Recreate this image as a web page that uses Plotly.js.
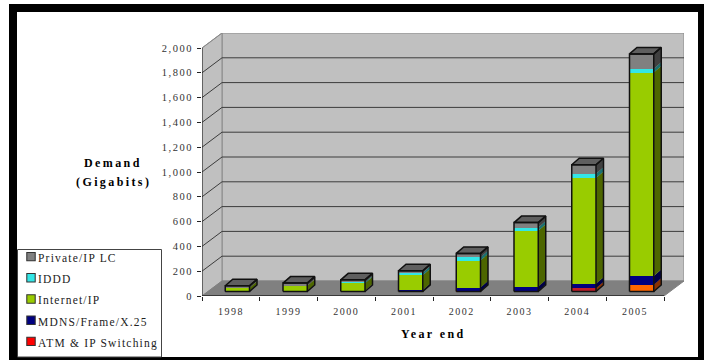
<!DOCTYPE html>
<html>
<head>
<meta charset="utf-8">
<script src="https://cdn.plot.ly/plotly-3.0.1.min.js"></script>
<style>
  html, body { margin: 0; padding: 0; background: #fff; overflow: hidden; }
  #frame { position: absolute; left: 9px; top: 4px; width: 681px; height: 345px;
           border-style: solid; border-color: #000; border-width: 8px 6px 3px 8px; background: #fff; box-sizing: content-box; }
  #chart { position: absolute; left: 0; top: 0; width: 704px; height: 360px; }
  .xtick text, .ytick text { letter-spacing: 1.5px; }
  .annotation-text { letter-spacing: 2.4px; }
  .legendtext { font-size: 11.5px !important; letter-spacing: 1.2px; }
  .legend .legendpoints path { stroke: #333 !important; stroke-width: 1.5px !important; }
</style>
</head>
<body>
<div id="frame"></div>
<div id="chart"></div>
<script>
// Yearly demand by service, in gigabits
const years   = [1998, 1999, 2000, 2001, 2002, 2003, 2004, 2005];
const atm     = [0, 0, 0, 2, 2, 4, 27, 54];
const mdns    = [4, 5, 8, 10, 30, 36, 35, 72];
const internet= [25, 40, 58, 120, 218, 449, 853, 1640];
const iddd    = [2, 3, 8, 20, 27, 27, 35, 30];
const privateIp = [15, 20, 20, 15, 30, 40, 72, 120];
const yTicks  = [0, 200, 400, 600, 800, 1000, 1200, 1400, 1600, 1800, 2000];
const xEdges  = [1997.5, 1998.5, 1999.5, 2000.5, 2001.5, 2002.5, 2003.5, 2004.5, 2005.5];

const seriesDefs = [
  { name: 'ATM & IP Switching', values: atm,       front: ['#ff0000','#ff0000','#ff0000','#ff0000','#ff0000','#800000','#c01c28','#ff6600'], side: '#8c3000' },
  { name: 'MDNS/Frame/X.25',    values: mdns,      front: '#000080', side: '#000048' },
  { name: 'Internet/IP',        values: internet,  front: '#99cc00', side: '#4d6600' },
  { name: 'IDDD',               values: iddd,      front: '#33e6e6', side: '#1a7070' },
  { name: 'Private/IP LC',      values: privateIp, front: '#808080', side: '#404040' }
];

// Oblique projection: the walls recede by wallX/wallY, bars sit part way into the floor
const plotLeft = 202, plotRight = 684, plotTop = 33, plotBottom = 296;
const unitX = 57.75, unitY = 0.124;
const wallX = 20 / unitX, wallY = 15 / unitY;
const barShiftX = 6.5 / unitX, barShiftY = 4.5 / unitY;
const depthX = 7.5 / unitX, depthY = 6.5 / unitY;
const barWidth = 0.42;
const xMin = xEdges[0], xMax = xEdges[8];
const xRange = [xMin, xMin + (plotRight - plotLeft) / unitX];
const yRange = [0, (plotBottom - plotTop) / unitY];
const yTop = yTicks[yTicks.length - 1];
const paperX = px => (px - plotLeft) / (plotRight - plotLeft);
const paperY = px => (plotBottom - px) / (plotBottom - plotTop);

const traces = [];

function poly(xs, ys, fill, line, width) {
  return { type: 'scatter', mode: 'lines', x: xs, y: ys, fill: 'toself', fillcolor: fill,
           line: { color: line, width: width }, showlegend: false, hoverinfo: 'skip', cliponaxis: false };
}
function path(xs, ys, color, width, axes) {
  const t = { type: 'scatter', mode: 'lines', x: xs, y: ys, line: { color: color, width: width },
              showlegend: false, hoverinfo: 'skip', cliponaxis: false };
  if (axes) { t.xaxis = 'x2'; t.yaxis = 'y2'; }
  return t;
}

// Walls and floor
traces.push(poly([xMin + wallX, xMax + wallX, xMax + wallX, xMin + wallX, xMin + wallX],
                 [wallY, wallY, yTop + wallY, yTop + wallY, wallY], '#c0c0c0', '#8a8a8a', 1));
traces.push(poly([xMin, xMin + wallX, xMin + wallX, xMin, xMin],
                 [0, wallY, yTop + wallY, yTop, 0], '#c0c0c0', '#8a8a8a', 1));
traces.push(poly([xMin, xMax, xMax + wallX, xMin + wallX, xMin],
                 [0, 0, wallY, wallY, 0], '#808080', '#808080', 1));

// Gridlines run across the side wall and along the back wall
const gx = [], gy = [];
yTicks.slice(1, -1).forEach(v => {
  gx.push(xMin, xMin + wallX, xMax + wallX, null);
  gy.push(v, v + wallY, v + wallY, null);
});
traces.push(path(gx, gy, '#3c3c3c', 1));
traces.push(path([xMin, xMin + wallX], [yTop, yTop + wallY], '#8a8a8a', 1));
traces.push(path([xMin, xMin], [0, yTop], '#222', 1));
traces.push(path([xMin, xMax], [0, 0], '#222', 1.5));

// Front faces of the stacked columns
seriesDefs.forEach(s => {
  traces.push({ type: 'bar', name: s.name, x: years, y: s.values, width: barWidth,
                xaxis: 'x2', yaxis: 'y2', hoverinfo: 'skip',
                marker: { color: s.front, line: { color: '#222', width: 0 } } });
});

// Side faces, one band per series
const half = barWidth / 2;
const cumulative = years.map(() => 0);
seriesDefs.forEach(s => {
  const xs = [], ys = [];
  years.forEach((yr, i) => {
    const lo = cumulative[i], hi = lo + s.values[i];
    cumulative[i] = hi;
    if (s.values[i] <= 0) return;
    const r = yr + half;
    xs.push(r, r + depthX, r + depthX, r, r, null);
    ys.push(lo, lo + depthY, hi + depthY, hi, lo, null);
  });
  const t = poly(xs, ys, s.side, s.side, 0);
  t.xaxis = 'x2'; t.yaxis = 'y2';
  traces.push(t);
});

// Column tops and outlines, drawn from the stack totals
const topX = [], topY = [], edgeX = [], edgeY = [];
years.forEach((yr, i) => {
  const l = yr - half, r = yr + half, h = cumulative[i];
  topX.push(l, r, r + depthX, l + depthX, l, null);
  topY.push(h, h, h + depthY, h + depthY, h, null);
  edgeX.push(l, r, r, l, l, null, r, r + depthX, r + depthX, r, null);
  edgeY.push(0, 0, h, h, 0, null, 0, depthY, h + depthY, h, null);
});
const topFace = poly(topX, topY, '#5f5f5f', '#111', 1.5);
topFace.xaxis = 'x2'; topFace.yaxis = 'y2';
traces.push(topFace);
traces.push(path(edgeX, edgeY, '#111', 1.5, true));

const titleFont = { size: 12, color: '#000', weight: 700 };
const layout = {
  width: 704, height: 360, autosize: false,
  margin: { l: plotLeft, r: 704 - plotRight, t: plotTop, b: 360 - plotBottom, pad: 0 },
  paper_bgcolor: 'rgba(0,0,0,0)', plot_bgcolor: 'rgba(0,0,0,0)',
  barmode: 'stack', bargap: 0,
  font: { family: '"Liberation Serif", serif', size: 10, color: '#333' },
  xaxis: { range: xRange, tickvals: years, ticks: 'outside', ticklen: 6, tickcolor: 'rgba(0,0,0,0)',
           showgrid: false, zeroline: false, showline: false,
           minor: { tickvals: xEdges, ticks: 'outside', ticklen: 4, tickcolor: '#222', showgrid: false },
           tickfont: { size: 10, color: '#333' } },
  yaxis: { range: yRange, tickvals: yTicks, tickformat: ',d', ticks: 'outside', ticklen: 4, tickcolor: '#222',
           ticklabelstandoff: 2, showgrid: false, zeroline: false, showline: false,
           tickfont: { size: 10.5, color: '#333' } },
  xaxis2: { overlaying: 'x', anchor: 'y2', range: [xRange[0] - barShiftX, xRange[1] - barShiftX], visible: false },
  yaxis2: { overlaying: 'y', anchor: 'x2', range: [yRange[0] - barShiftY, yRange[1] - barShiftY], visible: false },
  legend: { xref: 'container', yref: 'container', x: 17 / 704, y: 1 - 241 / 360, xanchor: 'left', yanchor: 'top',
            traceorder: 'reversed', bgcolor: 'rgba(0,0,0,0)', borderwidth: 0,
            entrywidth: 100, entrywidthmode: 'pixels', itemclick: false, itemdoubleclick: false,
            font: { size: 14, color: '#222' } },
  shapes: [
    // Legend box, open into the frame at the bottom
    { type: 'rect', xref: 'paper', yref: 'paper', x0: paperX(17.5), x1: paperX(161.5), y0: paperY(357), y1: paperY(249.5),
      fillcolor: '#fff', line: { color: '#444', width: 1 }, layer: 'below' }
  ],
  annotations: [
    { xref: 'paper', yref: 'paper', x: paperX(113), y: paperY(163), xanchor: 'center', yanchor: 'middle',
      text: 'Demand', showarrow: false, font: titleFont },
    { xref: 'paper', yref: 'paper', x: paperX(113), y: paperY(182), xanchor: 'center', yanchor: 'middle',
      text: '(Gigabits)', showarrow: false, font: titleFont },
    { xref: 'x', yref: 'paper', x: (xEdges[0] + xEdges[8]) / 2, y: paperY(334), xanchor: 'center', yanchor: 'middle',
      text: 'Year end', showarrow: false, font: titleFont }
  ]
};

Plotly.newPlot('chart', traces, layout, { displayModeBar: false, staticPlot: true }).then(() => {
  // Tighten the legend rows: smaller swatches sitting close to their labels
  document.querySelectorAll('#chart .legend .traces').forEach(row => {
    const sym = row.querySelector('.legendsymbols');
    if (sym) sym.setAttribute('transform', 'translate(0,0) scale(0.7)');
    const label = row.querySelector('.legendtext');
    if (label) label.setAttribute('x', 21);
  });
});
</script>
</body>
</html>
